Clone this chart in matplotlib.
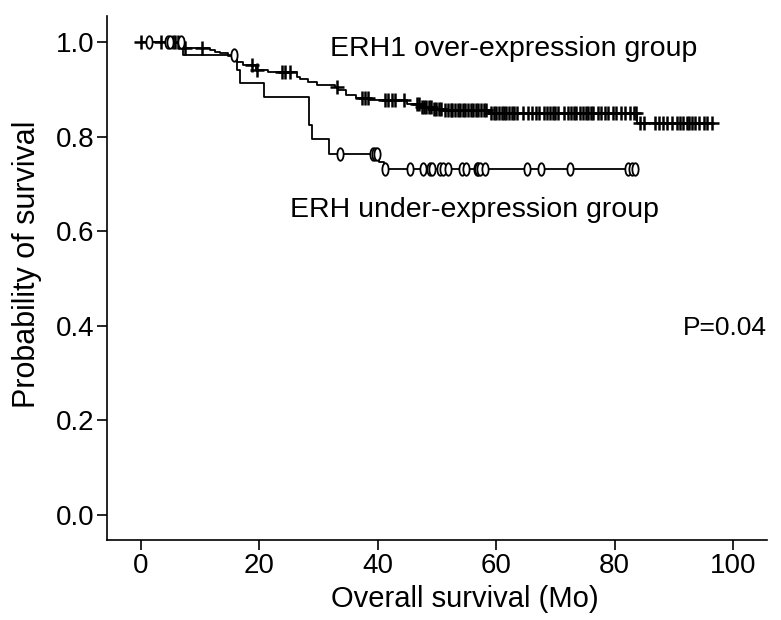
import numpy as np
import matplotlib.pyplot as plt
from matplotlib.path import Path
from matplotlib.transforms import Affine2D

plt.rcParams['font.family'] = ['Liberation Sans', 'DejaVu Sans']

# ERH1 over-expression group: step times / survival after each drop
hi_t = [0, 6.9, 11.7, 12.5, 13.3, 14.7, 16.2, 17.3, 19.5, 21.5, 26.3, 26.9, 28.3,
        29.7, 32.8, 33.3, 34.7, 36.4, 38.7, 44.9, 47.1, 49.1, 51.4, 58.7, 83.7, 96.5]
hi_s = [1.0, 0.987, 0.983, 0.979, 0.976, 0.970, 0.958, 0.951, 0.941, 0.937, 0.926,
        0.923, 0.916, 0.909, 0.905, 0.898, 0.888, 0.881, 0.877, 0.870, 0.863, 0.859,
        0.856, 0.850, 0.828, 0.828]
hi_cens = [0, 3.5, 5.4, 5.8, 6.3, 7.4, 10.3, 18.7, 19.6, 23.8, 24.3, 25.2, 33.1,
           37.3, 37.8, 38.4, 41.2, 41.8, 42.4, 42.9, 44.5,
           46.6, 47.0, 47.4, 47.8, 48.2, 48.6, 49.0, 49.5, 49.9, 50.3, 50.7, 51.4,
           51.8, 52.3, 52.6, 53.0, 53.5, 53.9, 54.4, 54.8, 55.3, 55.7, 56.1, 56.6,
           57.0, 57.4, 57.9, 58.3, 59.2, 59.6, 60.0, 60.5, 60.9, 61.3, 61.7, 62.2,
           62.6, 63.0, 63.5, 64.6, 65.4, 66.1, 66.7, 67.3, 68.0, 68.5, 69.1, 69.6,
           70.0, 70.4, 71.5, 72.1, 72.6, 73.1, 73.5, 74.2, 74.6, 75.1, 75.5, 76.0,
           76.4, 77.2, 77.7, 78.3, 78.8, 79.7, 80.3, 81.1, 81.7, 82.5, 83.3, 83.6,
           84.3, 85.0, 86.8, 87.4, 88.2, 88.8, 89.6, 90.5, 91.0, 91.6, 92.2, 92.5,
           93.0, 93.6, 94.2, 95.0, 95.6, 96.5]

# ERH under-expression group
lo_t = [0, 7.1, 16.2, 16.7, 20.8, 28.4, 28.9, 31.8, 40.2, 41.0, 83.4]
lo_s = [1.0, 0.972, 0.940, 0.913, 0.883, 0.824, 0.796, 0.764, 0.746, 0.731, 0.731]
lo_cens = [1.4, 4.6, 4.9, 6.8, 15.7, 33.6, 39.2, 39.5, 39.8, 41.3, 45.4, 47.6, 48.8,
           49.2, 50.5, 51.0, 51.9, 54.2, 54.9, 56.7, 56.9, 57.3, 58.1, 65.2, 67.6,
           72.5, 82.3, 82.9, 83.4]


def surv_at(times, surv, c):
    idx = np.searchsorted(times, c, side='right') - 1
    return np.array(surv)[idx]


fig = plt.figure(figsize=(7.81, 6.2), dpi=100)
ax = fig.add_axes([0.137, 0.129, 0.845, 0.845])

oval = Path.unit_circle().transformed(Affine2D().scale(0.5, 1.0))

ax.step(lo_t, lo_s, where='post', color='black', lw=1.3)
ax.step(hi_t, hi_s, where='post', color='black', lw=1.3)
ax.plot(hi_cens, surv_at(hi_t, hi_s, hi_cens), ls='none', marker='+',
        ms=10, mew=1.8, color='black')
ax.plot(lo_cens, surv_at(lo_t, lo_s, lo_cens), ls='none', marker=oval,
        ms=9, mew=1.3, mfc='white', mec='black')

ax.text(32, 0.985, "ERH1 over-expression group", fontsize=20.5, va='center')
ax.text(25.2, 0.644, "ERH under-expression group", fontsize=20.5, va='center')
ax.text(105.7, 0.396, "P=0.04", fontsize=19, va='center', ha='right')

ax.set_xlim(-5.7, 105.7)
ax.set_ylim(-0.053, 1.055)
ax.set_xticks([0, 20, 40, 60, 80, 100])
ax.set_yticks([0.0, 0.2, 0.4, 0.6, 0.8, 1.0])
ax.set_yticklabels(["0.0", "0.2", "0.4", "0.6", "0.8", "1.0"])
ax.tick_params(labelsize=20, length=7, width=1.2, pad=2)
ax.spines['top'].set_visible(False)
ax.spines['right'].set_visible(False)
ax.spines['left'].set_linewidth(1.2)
ax.spines['bottom'].set_linewidth(1.2)
ax.set_xlabel("Overall survival (Mo)", fontsize=21)
ax.set_ylabel("Probability of survival", fontsize=22)
ax.xaxis.set_label_coords(0.542, -0.085)
ax.yaxis.set_label_coords(-0.098, 0.527)

fig.savefig("out.png", dpi=100)
